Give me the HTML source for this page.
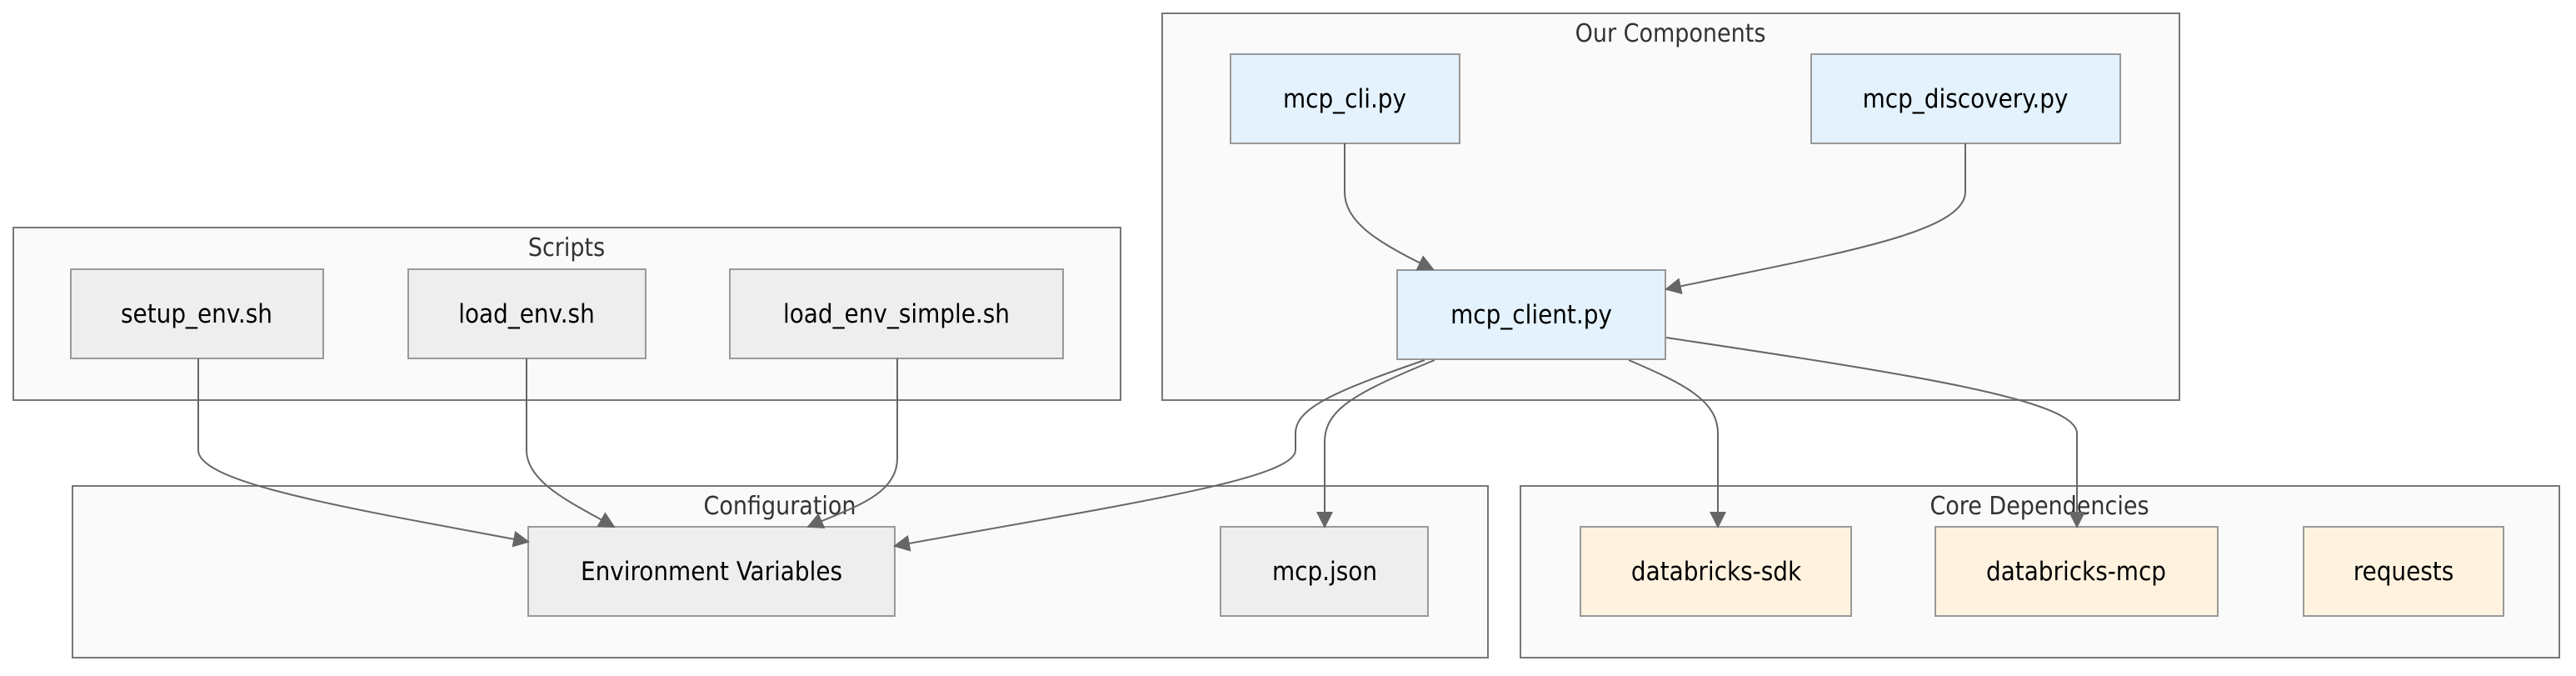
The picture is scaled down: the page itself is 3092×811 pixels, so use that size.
<!DOCTYPE html>
<html><head><meta charset="utf-8"><style>
body{margin:0;background:#fff}
svg text{font-family:"DejaVu Sans Condensed","Liberation Sans",sans-serif;}
</style></head><body>
<svg width="3092" height="806" viewBox="0 0 3092 806" xmlns="http://www.w3.org/2000/svg">
<defs><marker id="a" viewBox="0 0 10 10" refX="9" refY="5" markerWidth="9" markerHeight="9" markerUnits="userSpaceOnUse" orient="auto"><path d="M0,0L10,5L0,10z" fill="#666"/></marker>
<marker id="b" viewBox="0 0 10 10" refX="9" refY="5" markerWidth="20" markerHeight="20" markerUnits="userSpaceOnUse" orient="auto"><path d="M0,0L10,5L0,10z" fill="#666"/></marker></defs>
<g fill="#fafafa" stroke="#777" stroke-width="2">
<rect x="16" y="273" width="1329" height="207"/>
<rect x="1395" y="16" width="1221" height="464"/>
<rect x="87" y="583" width="1699" height="206"/>
<rect x="1825" y="583" width="1247" height="206"/>
</g>
<g font-size="30" fill="#333" text-anchor="middle">
<text x="680" y="307">Scripts</text>
<text x="2005" y="50">Our Components</text>
<text x="936" y="617">Configuration</text>
<text x="2448" y="617">Core Dependencies</text>
</g>
<g stroke="#999" stroke-width="2">
<rect x="85" y="323" width="303" height="107" fill="#eee"/>
<rect x="490" y="323" width="285" height="107" fill="#eee"/>
<rect x="876" y="323" width="400" height="107" fill="#eee"/>
<rect x="1477" y="65" width="275" height="107" fill="#e3f2fd"/>
<rect x="2174" y="65" width="371" height="107" fill="#e3f2fd"/>
<rect x="1677" y="324" width="322" height="107" fill="#e3f2fd"/>
<rect x="634" y="632" width="440" height="107" fill="#eee"/>
<rect x="1465" y="632" width="249" height="107" fill="#eee"/>
<rect x="1897" y="632" width="325" height="107" fill="#fff3e0"/>
<rect x="2323" y="632" width="339" height="107" fill="#fff3e0"/>
<rect x="2765" y="632" width="240" height="107" fill="#fff3e0"/>
</g>
<g font-size="31" fill="#000" text-anchor="middle">
<text x="236" y="387">setup_env.sh</text>
<text x="632" y="387">load_env.sh</text>
<text x="1076" y="387">load_env_simple.sh</text>
<text x="1614" y="129">mcp_cli.py</text>
<text x="2359" y="129">mcp_discovery.py</text>
<text x="1838" y="388">mcp_client.py</text>
<text x="854" y="696">Environment Variables</text>
<text x="1590" y="696">mcp.json</text>
<text x="2060" y="696">databricks-sdk</text>
<text x="2492" y="696">databricks-mcp</text>
<text x="2885" y="696">requests</text>
</g>
<g fill="none" stroke="#666" stroke-width="2" marker-end="url(#b)">
<path d="M1614,172 V230 C1614,265 1650,290 1720,323"/>
<path d="M2359,172 V230 C2359,280 2200,305 2000,347"/>
<path d="M238,430 V540 C238,580 420,610 634,650"/>
<path d="M632,430 V540 C632,580 690,605 737,632"/>
<path d="M1077,430 V550 C1077,595 1020,610 970,632"/>
<path d="M1710,432 C1600,470 1555,490 1555,520 V540 C1555,575 1350,605 1074,655"/>
<path d="M1722,432 C1630,470 1590,490 1590,530 V632"/>
<path d="M1955,432 C2020,460 2062,480 2062,520 V632"/>
<path d="M2000,405 C2300,450 2493,480 2493,520 V632"/>
</g>
</svg>
</body></html>
